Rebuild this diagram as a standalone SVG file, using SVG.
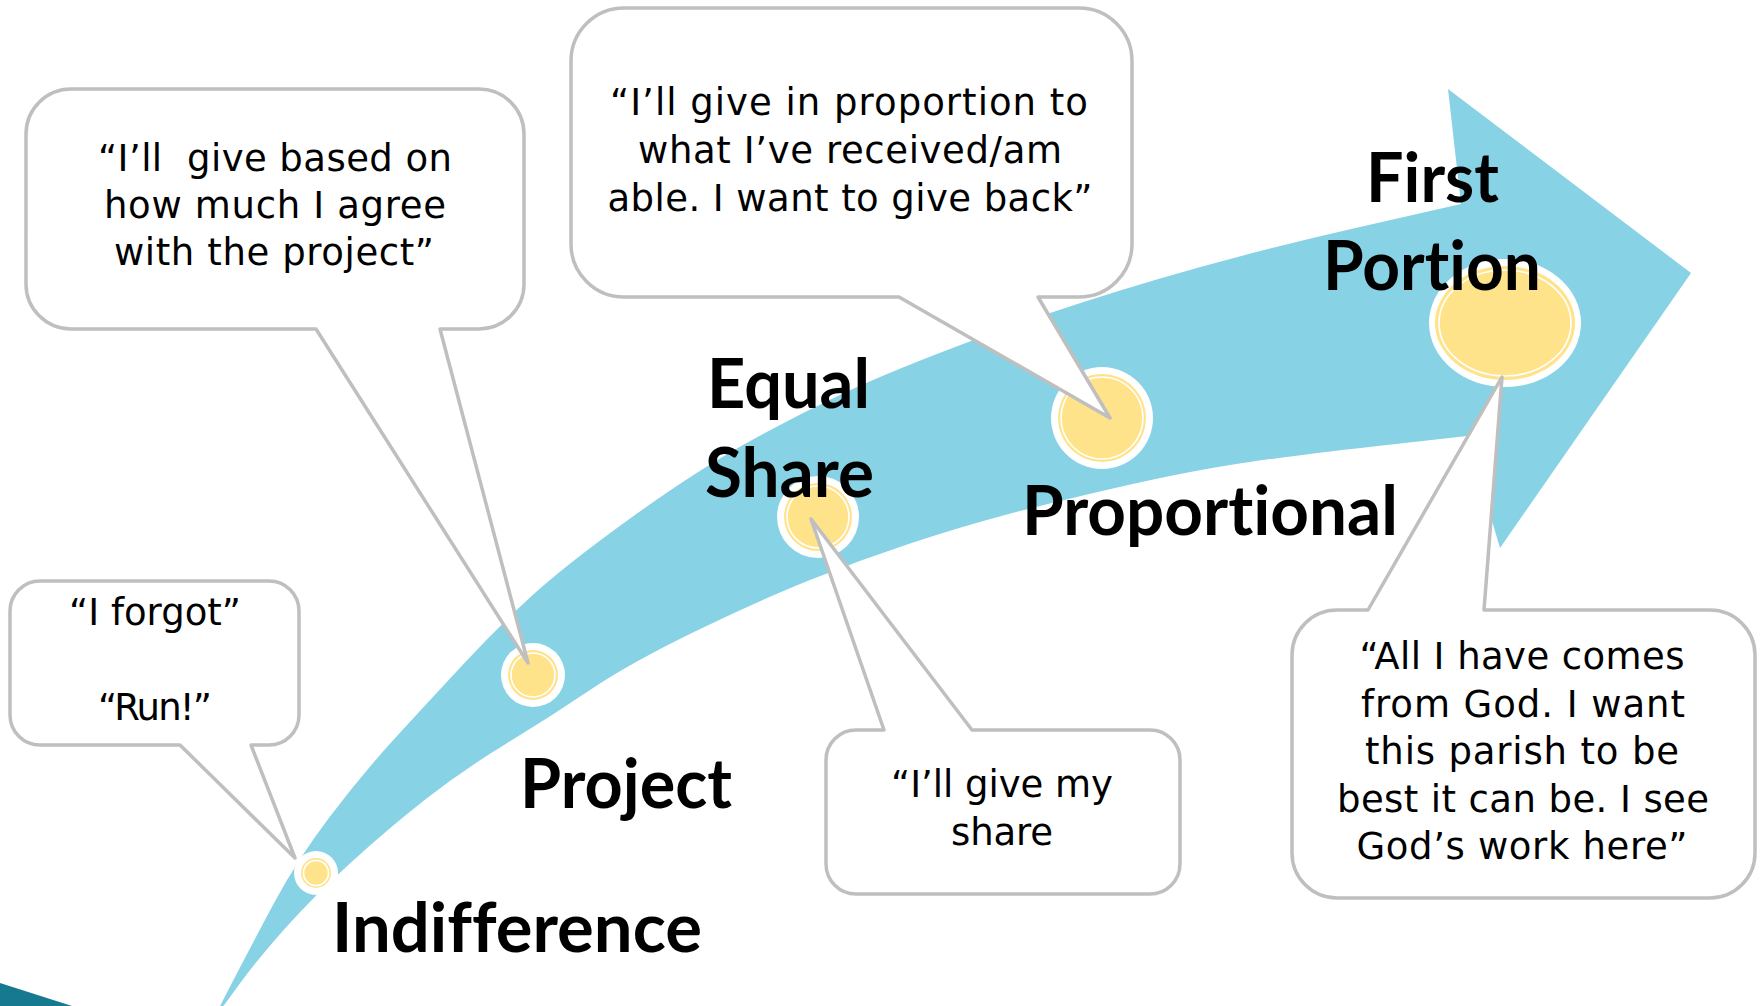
<svg xmlns="http://www.w3.org/2000/svg" width="1761" height="1006" viewBox="0 0 1761 1006">
<style>
.callout{fill:#ffffff;stroke:#BFBFBF;stroke-width:3.5;stroke-linejoin:round}
.q{font-family:"DejaVu Sans","Liberation Sans",sans-serif;font-size:37px;fill:#000;text-anchor:middle}
.lbl{font-family:Lato,"Liberation Sans",sans-serif;font-weight:700;font-size:68px;fill:#000;font-variant-ligatures:none;font-feature-settings:"liga" 0,"clig" 0}
.dw{fill:#ffffff}
.dy{fill:#FFE38A}
.dr{fill:none;stroke:#ffffff;stroke-width:1.6}
</style>
<rect width="1761" height="1006" fill="#ffffff"/>
<polygon points="0,983 72,1006 0,1006" fill="#16798F"/>
<g id="arrow">
<path fill="#87D2E4" d="M219,1008 L234.5,978 Q250,948 273.5,904 Q297,860 330,816.5 Q363,773 396.5,736.5 Q430,700 463.5,664 Q497,628 530,597.5 Q563,567 628,520 Q693,473 743,445 Q793,417 843,393.5 Q893,370 976.5,339 Q1060,308 1155,280 Q1250,252 1355.5,228 L1461,204 L1448,89 L1691,273 L1500,548 L1467,436 L1373.5,446.5 Q1280,457 1230,465 Q1180,473 1115,488 Q1050,503 1005,515 Q960,527 910,543.5 Q860,560 810,580 Q760,600 695,631.5 Q630,663 590,690 Q550,717 506.5,743.5 Q463,770 426.5,798.5 Q390,827 351.5,862 Q313,897 285,928.5 Q257,960 239.5,984 L222,1008 Z"/>
</g>
<g id="dot-indifference">
<circle class="dw" cx="316" cy="873" r="22"/><circle class="dy" cx="316" cy="873" r="15"/><circle class="dr" cx="316" cy="873" r="12.5"/>
</g>
<g id="dot-project">
<circle class="dw" cx="533" cy="675" r="32"/><circle class="dy" cx="533" cy="675" r="25"/><circle class="dr" cx="533" cy="675" r="22"/>
</g>
<g id="dot-equal">
<circle class="dw" cx="818" cy="517" r="41"/><circle class="dy" cx="818" cy="517" r="34"/><circle class="dr" cx="818" cy="517" r="31"/>
</g>
<g id="dot-proportional">
<circle class="dw" cx="1102" cy="418" r="51"/><circle class="dy" cx="1102" cy="418" r="44"/><circle class="dr" cx="1102" cy="418" r="41"/>
</g>
<g id="dot-first">
<ellipse class="dw" cx="1505" cy="323" rx="76" ry="64"/><ellipse class="dy" cx="1505" cy="323" rx="70" ry="57"/><ellipse class="dr" cx="1505" cy="323" rx="66" ry="53"/>
</g>
<g id="connectors">
<path class="callout" d="M40,581 H269 A30,30 0 0 1 299,611 V715 A30,30 0 0 1 269,745 H251 L295,858 L180,745 H40 A30,30 0 0 1 10,715 V611 A30,30 0 0 1 40,581 Z"/>
<path class="callout" d="M71,89 H479 A45,45 0 0 1 524,134 V284 A45,45 0 0 1 479,329 H440 L528,663 L316,329 H71 A45,45 0 0 1 26,284 V134 A45,45 0 0 1 71,89 Z"/>
<path class="callout" d="M624,8 H1079 A53,53 0 0 1 1132,61 V244 A53,53 0 0 1 1079,297 H1038 L1110,418 L899,297 H624 A53,53 0 0 1 571,244 V61 A53,53 0 0 1 624,8 Z"/>
<path class="callout" d="M856,730 H884 L811,519 L972,730 H1150 A30,30 0 0 1 1180,760 V864 A30,30 0 0 1 1150,894 H856 A30,30 0 0 1 826,864 V760 A30,30 0 0 1 856,730 Z"/>
<path class="callout" d="M1337,610 H1368 L1502,377 L1484,610 H1710 A45,45 0 0 1 1755,655 V853 A45,45 0 0 1 1710,898 H1337 A45,45 0 0 1 1292,853 V655 A45,45 0 0 1 1337,610 Z"/>
</g>
<g id="callout-indifference">
<text class="q" x="155" y="625" textLength="172" lengthAdjust="spacing">“I forgot”</text>
<text class="q" x="155" y="720" textLength="114" lengthAdjust="spacing">“Run!”</text>
</g>
<g id="callout-project">
<text class="q" x="275" y="171" textLength="354" lengthAdjust="spacing" xml:space="preserve">“I’ll  give based on</text>
<text class="q" x="275" y="218" textLength="342" lengthAdjust="spacing">how much I agree</text>
<text class="q" x="274" y="265" textLength="320" lengthAdjust="spacing">with the project”</text>
</g>
<g id="callout-proportional">
<text class="q" x="849" y="115" textLength="478" lengthAdjust="spacing">“I’ll give in proportion to</text>
<text class="q" x="850" y="163" textLength="424" lengthAdjust="spacing">what I’ve received/am</text>
<text class="q" x="850" y="211" textLength="485" lengthAdjust="spacing">able. I want to give back”</text>
</g>
<g id="callout-equal">
<text class="q" x="1002" y="797" textLength="222" lengthAdjust="spacing">“I’ll give my</text>
<text class="q" x="1002" y="845" textLength="102" lengthAdjust="spacing">share</text>
</g>
<g id="callout-first">
<text class="q" x="1522" y="669" textLength="325" lengthAdjust="spacing">“All I have comes</text>
<text class="q" x="1523" y="717" textLength="324" lengthAdjust="spacing">from God. I want</text>
<text class="q" x="1522" y="764" textLength="314" lengthAdjust="spacing">this parish to be</text>
<text class="q" x="1523" y="812" textLength="372" lengthAdjust="spacing">best it can be. I see</text>
<text class="q" x="1522" y="859" textLength="331" lengthAdjust="spacing">God’s work here”</text>
</g>
<g id="labels">
<text class="lbl" x="332" y="952" textLength="370" lengthAdjust="spacingAndGlyphs">Indifference</text>
<text class="lbl" x="520" y="808" textLength="212" lengthAdjust="spacingAndGlyphs">Project</text>
<text class="lbl" x="707" y="408" textLength="163" lengthAdjust="spacingAndGlyphs">Equal</text>
<text class="lbl" x="705" y="497" textLength="169" lengthAdjust="spacingAndGlyphs">Share</text>
<text class="lbl" x="1022" y="535" textLength="376" lengthAdjust="spacingAndGlyphs">Proportional</text>
<text class="lbl" x="1366" y="202" textLength="133" lengthAdjust="spacingAndGlyphs">First</text>
<text class="lbl" x="1323" y="290" textLength="218" lengthAdjust="spacingAndGlyphs">Portion</text>
</g>
</svg>
